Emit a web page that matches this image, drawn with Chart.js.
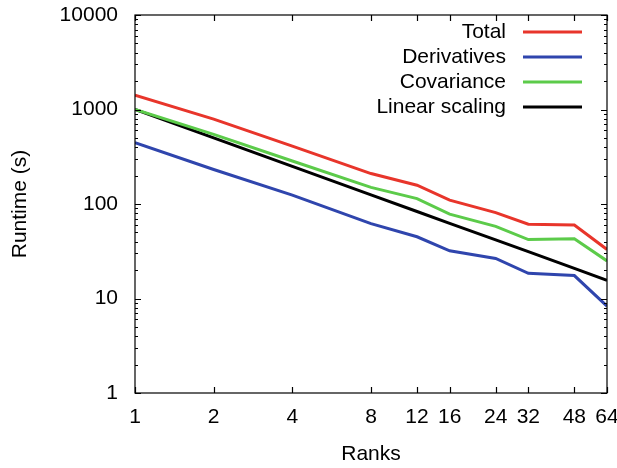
<!DOCTYPE html>
<html>
<head>
<meta charset="utf-8">
<script src="https://cdn.jsdelivr.net/npm/chart.js@4.4.1/dist/chart.umd.min.js"></script>
<style>
  html, body { margin: 0; padding: 0; background: #fff; }
</style>
</head>
<body>
<canvas id="chart" width="617" height="468"></canvas>
<script>
// Runtime vs number of ranks (log-log)
const ranks = [1, 2, 4, 8, 12, 16, 24, 32, 48, 64];
const total = [1420, 790, 410, 210, 158, 110, 81, 61, 60, 33];
const derivatives = [446, 232, 124, 62, 45, 32, 26.5, 18.5, 17.5, 8.3];
const covariance = [1000, 545, 285, 150, 114, 78, 58, 42, 43, 25];
const linearScaling = [1000, 500, 250, 125, 83.3, 62.5, 41.7, 31.3, 20.8, 15.6];
const yTickValues = [1, 10, 100, 1000, 10000];

const FONT = 'Liberation Sans';
const SIZE = 21;

// draws the closed frame and the inward gnuplot style ticks
const frameTicks = {
  id: 'frameTicks',
  afterDraw(chart) {
    const { ctx, chartArea: a, scales: { x, y } } = chart;
    ctx.save();
    ctx.strokeStyle = '#000';
    ctx.lineWidth = 1.2;
    ctx.strokeRect(a.left, a.top, a.right - a.left, a.bottom - a.top);
    ctx.beginPath();
    for (let d = 1; d < 10000; d *= 10) {
      for (let m = 1; m <= 10; m++) {
        const py = Math.round(y.getPixelForValue(d * m)) + 0.5;
        const len = (m === 1 || m === 10) ? 6 : 3;
        ctx.moveTo(a.left, py); ctx.lineTo(a.left + len, py);
        ctx.moveTo(a.right, py); ctx.lineTo(a.right - len, py);
      }
    }
    ranks.forEach(r => {
      const px = Math.round(x.getPixelForValue(r)) + 0.5;
      ctx.moveTo(px, a.bottom); ctx.lineTo(px, a.bottom - 6);
      ctx.moveTo(px, a.top); ctx.lineTo(px, a.top + 6);
    });
    ctx.stroke();
    ctx.restore();
  }
};

// legend with right aligned text and the line sample on its right
const sideLegend = {
  id: 'sideLegend',
  afterDraw(chart) {
    const { ctx } = chart;
    ctx.save();
    ctx.font = SIZE + 'px "' + FONT + '"';
    ctx.textAlign = 'right';
    ctx.textBaseline = 'middle';
    chart.data.datasets.forEach((ds, i) => {
      const yy = 32 + 25 * i;
      ctx.fillStyle = '#000';
      ctx.fillText(ds.label, 506, yy);
      ctx.strokeStyle = ds.borderColor;
      ctx.lineWidth = 3;
      ctx.beginPath();
      ctx.moveTo(523, yy); ctx.lineTo(582, yy);
      ctx.stroke();
    });
    ctx.restore();
  }
};

const line = (label, data, color) => ({
  label: label,
  data: data.map((v, i) => ({ x: ranks[i], y: v })),
  borderColor: color,
  borderWidth: 3,
  pointRadius: 0,
  fill: false,
  tension: 0
});

new Chart(document.getElementById('chart'), {
  type: 'line',
  data: {
    datasets: [
      line('Total', total, '#e8352b'),
      line('Derivatives', derivatives, '#2f45ad'),
      line('Covariance', covariance, '#5ccb4a'),
      line('Linear scaling', linearScaling, '#000000')
    ]
  },
  options: {
    responsive: false,
    animation: false,
    devicePixelRatio: 1,
    layout: { padding: { top: 15, right: 10, left: 0, bottom: 0 } },
    plugins: { legend: { display: false }, tooltip: { enabled: false } },
    scales: {
      x: {
        type: 'logarithmic',
        min: 1,
        max: 64,
        afterBuildTicks: s => { s.ticks = ranks.map(v => ({ value: v })); },
        afterFit: s => { s.height = 75; s.paddingLeft = 0; s.paddingRight = 0; },
        grid: { display: false, drawTicks: false },
        border: { display: false },
        ticks: {
          autoSkip: false,
          maxRotation: 0,
          padding: 12,
          color: '#000',
          font: { family: FONT, size: SIZE },
          callback: v => String(v)
        },
        title: {
          display: true,
          text: 'Ranks',
          color: '#000',
          font: { family: FONT, size: SIZE },
          padding: { top: 0, bottom: 1 }
        }
      },
      y: {
        type: 'logarithmic',
        min: 1,
        max: 10000,
        afterBuildTicks: s => { s.ticks = yTickValues.map(v => ({ value: v })); },
        afterFit: s => { s.width = 135; s.paddingTop = 0; s.paddingBottom = 0; },
        grid: { display: false, drawTicks: false },
        border: { display: false },
        ticks: {
          padding: 17,
          color: '#000',
          font: { family: FONT, size: SIZE },
          callback: v => String(v)
        },
        title: {
          display: true,
          text: 'Runtime (s)',
          color: '#000',
          font: { family: FONT, size: SIZE },
          padding: { top: 8, bottom: 0 }
        }
      }
    }
  },
  plugins: [frameTicks, sideLegend]
});
</script>
</body>
</html>
